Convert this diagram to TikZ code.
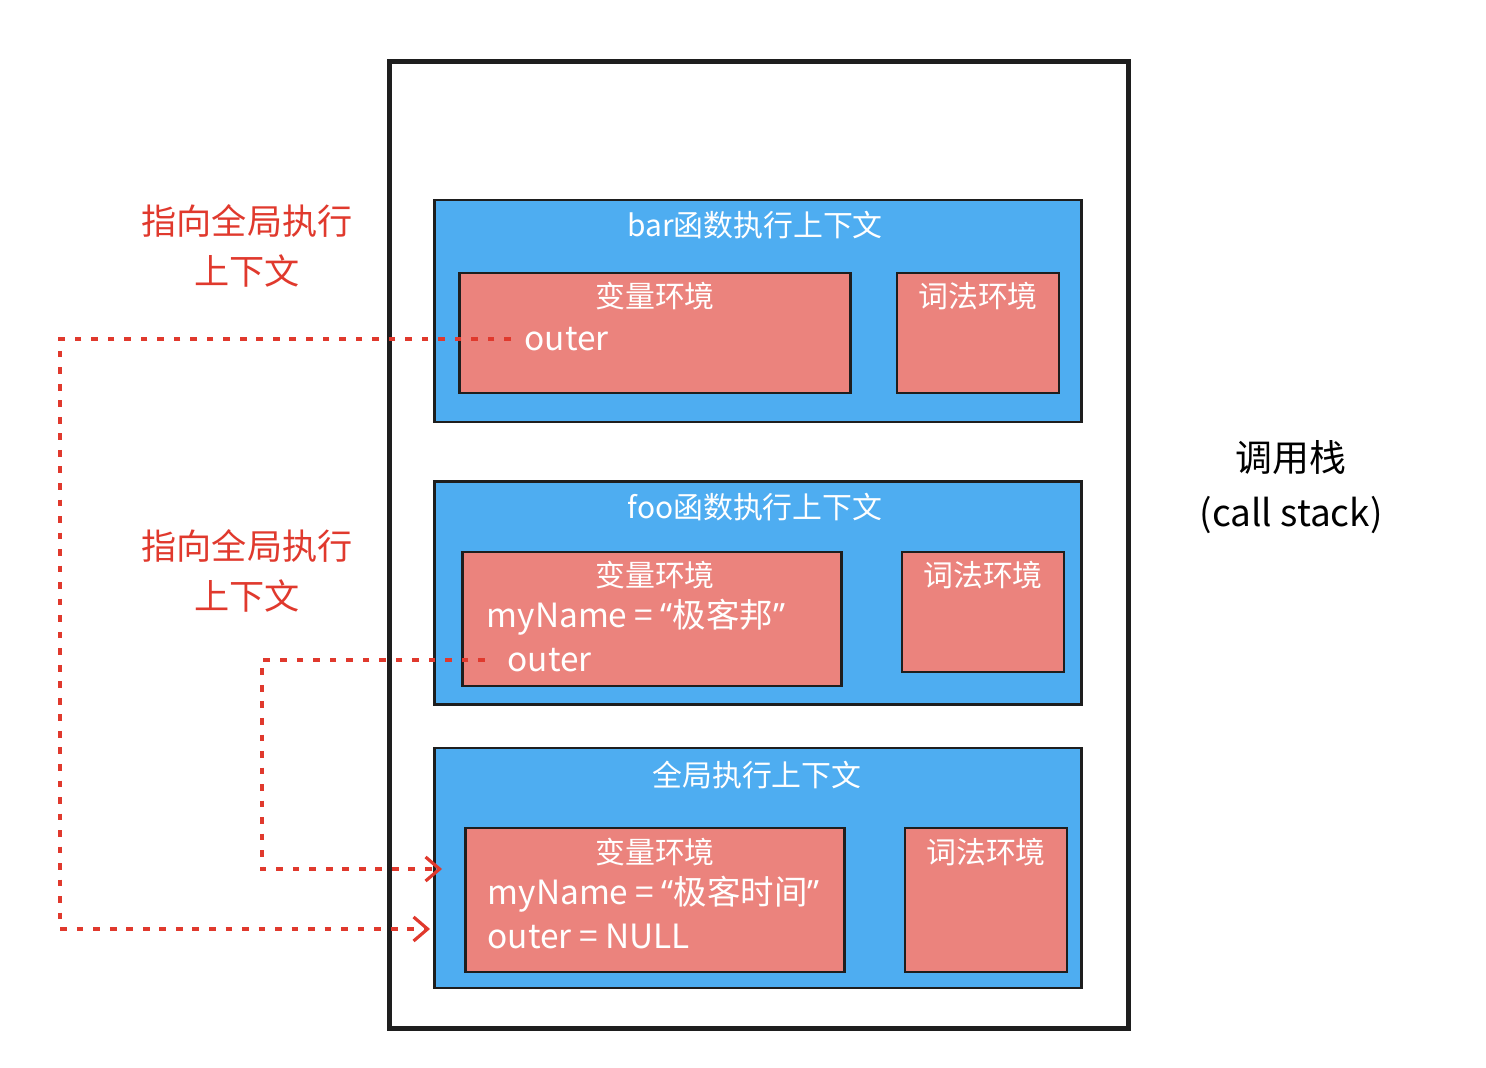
\documentclass[tikz,border=0pt]{standalone}
\usepackage{fontspec}
\setmainfont{Noto Sans CJK SC}
\newfontfamily\quotefont{Noto Sans}
\usetikzlibrary{arrows.meta,positioning}
\definecolor{ctxblue}{HTML}{4EADF1}
\definecolor{envred}{HTML}{EB837D}
\definecolor{linkred}{HTML}{E0392D}
\definecolor{edgedark}{HTML}{1E1E1E}

\begin{document}
\begin{tikzpicture}[
  x=0.01cm, y=-0.01cm,
  stackbox/.style={
    rectangle,
    draw=edgedark,
    line width=1.4pt,
    minimum width=7.38cm,
    minimum height=9.66cm
  },
  ctxbox/.style={
    rectangle,
    draw=edgedark,
    line width=0.8pt,
    fill=ctxblue,
    minimum width=6.47cm
  },
  envbox/.style={
    rectangle,
    draw=edgedark,
    line width=0.8pt,
    fill=envred
  },
  ctxtitle/.style={text=white, font=\fontsize{8.5}{10}\selectfont},
  entry/.style={text=white, anchor=west, inner sep=0pt, font=\fontsize{9.5}{11}\selectfont},
  linknote/.style={text=linkred, align=center, font=\fontsize{10}{14}\selectfont},
  link/.style={
    draw=linkred,
    line width=0.9pt,
    dash pattern=on 1.9pt off 2.8pt,
    -{Straight Barb[length=1.4mm,width=2.4mm,line width=0.9pt]}
  }
]
\useasboundingbox (0,0) rectangle (1486,1068);

% call stack
\node[stackbox] (stack) at (759,545) {};
\node[align=center, font=\fontsize{10.5}{15.5}\selectfont] (stacklabel) at (1291,487) {调用栈\\(call stack)};

% bar context
\node[ctxbox, minimum height=2.22cm] (barctx) at (758,311) {};
\node[ctxtitle] (bartitle) at (755,225) {bar函数执行上下文};
\node[envbox, minimum width=3.9cm, minimum height=1.2cm] (barvar) at (655,333) {};
\node[envbox, minimum width=1.62cm, minimum height=1.2cm] (barlex) at (978,333) {};
\node[ctxtitle] at (655,296) {变量环境};
\node[ctxtitle] at (978,296) {词法环境};
\node[entry] (barouter) at (524,339) {outer};

% foo context
\node[ctxbox, minimum height=2.23cm] (fooctx) at (758,593) {};
\node[ctxtitle] (footitle) at (755,507) {foo函数执行上下文};
\node[envbox, minimum width=3.79cm, minimum height=1.34cm] (foovar) at (652,619) {};
\node[envbox, minimum width=1.62cm, minimum height=1.2cm] (foolex) at (983,612) {};
\node[ctxtitle] at (655,575) {变量环境};
\node[ctxtitle] at (983,575) {词法环境};
\node[entry] (fooname) at (486,617) {myName = {\quotefont “}极客邦{\quotefont ”}};
\node[entry] (fooouter) at (507,660) {outer};

% global context
\node[ctxbox, minimum height=2.4cm] (globctx) at (758,868) {};
\node[ctxtitle] (globtitle) at (757,775) {全局执行上下文};
\node[envbox, minimum width=3.79cm, minimum height=1.44cm] (globvar) at (655,900) {};
\node[envbox, minimum width=1.62cm, minimum height=1.44cm] (globlex) at (986,900) {};
\node[ctxtitle] at (655,852) {变量环境};
\node[ctxtitle] at (986,852) {词法环境};
\node[entry] (globname) at (487,894) {myName = {\quotefont “}极客时间{\quotefont ”}};
\node[entry] (globouter) at (487,936) {outer = NULL};

% outer links
\node[linknote] (barnote) at (247,246) {指向全局执行\\上下文};
\node[linknote] (foonote) at (247,571) {指向全局执行\\上下文};
\coordinate (barin) at (430,929);
\coordinate (fooin) at (442,869);
\draw[link] ([xshift=-0.13cm]barouter.west) -- ++(-451,0) |- (barin);
\draw[link] ([xshift=-0.22cm]fooouter.west) -- ++(-223,0) |- (fooin);

\end{tikzpicture}
\end{document}
